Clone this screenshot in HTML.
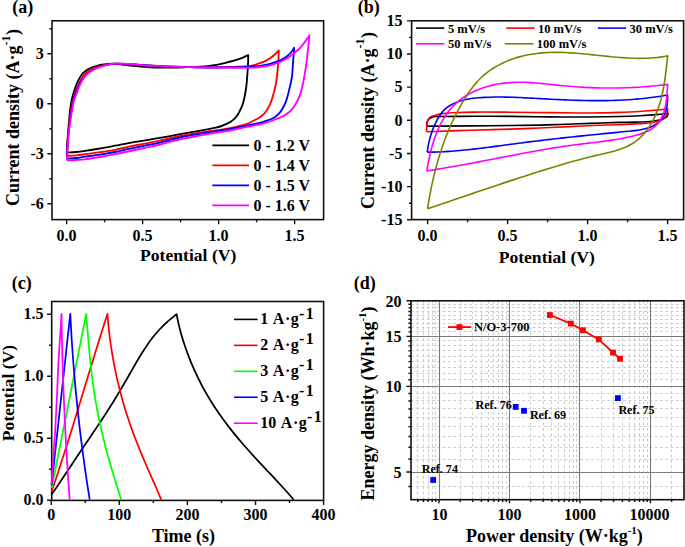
<!DOCTYPE html>
<html><head><meta charset="utf-8"><style>
html,body{margin:0;padding:0;background:#fff;}
svg{display:block;}
text{font-family:'Liberation Serif',serif;font-weight:bold;fill:#000;}
</style></head><body>
<svg width="685" height="547" viewBox="0 0 685 547">
<rect width="685" height="547" fill="#fff"/>
<text x="12.30" y="12.80" font-size="18" text-anchor="start" >(a)</text>
<rect x="52" y="20.8" width="271.6" height="198.79999999999998" fill="none" stroke="#111" stroke-width="1.6"/>
<path d="M66.60,219.60v4.6M142.60,219.60v4.6M218.60,219.60v4.6M294.60,219.60v4.6M104.60,219.60v2.6M180.60,219.60v2.6M256.60,219.60v2.6M52.00,203.80h-4.6M52.00,153.80h-4.6M52.00,103.80h-4.6M52.00,53.80h-4.6M52.00,178.80h-2.6M52.00,128.80h-2.6M52.00,78.80h-2.6M52.00,28.80h-2.6" stroke="#111" stroke-width="1.4" fill="none"/>
<text x="66.60" y="241.20" font-size="16" text-anchor="middle" >0.0</text>
<text x="142.60" y="241.20" font-size="16" text-anchor="middle" >0.5</text>
<text x="218.60" y="241.20" font-size="16" text-anchor="middle" >1.0</text>
<text x="294.60" y="241.20" font-size="16" text-anchor="middle" >1.5</text>
<text x="43.80" y="209.40" font-size="16" text-anchor="end" >-6</text>
<text x="43.80" y="159.40" font-size="16" text-anchor="end" >-3</text>
<text x="43.80" y="109.40" font-size="16" text-anchor="end" >0</text>
<text x="43.80" y="59.40" font-size="16" text-anchor="end" >3</text>
<text x="188.20" y="261.20" font-size="17.6" text-anchor="middle" >Potential (V)</text>
<text transform="translate(19.1,117.5) rotate(-90)" font-size="18" text-anchor="middle">Current density (A·g<tspan font-size="12" dy="-9.5">-1</tspan><tspan dy="9.5" dx="0.5">)</tspan></text>
<path d="M66.80,152.60 C67.03,148.40 67.18,144.60 67.50,140.00 C67.82,135.40 68.32,129.50 68.70,125.00 C69.08,120.50 69.33,117.07 69.80,113.00 C70.27,108.93 70.82,104.15 71.50,100.60 C72.18,97.05 73.12,94.30 73.90,91.70 C74.68,89.10 75.40,87.02 76.20,85.00 C77.00,82.98 77.70,81.43 78.70,79.60 C79.70,77.77 81.12,75.37 82.20,74.00 C83.28,72.63 84.15,72.23 85.20,71.40 C86.25,70.57 87.22,69.73 88.50,69.00 C89.78,68.27 91.32,67.57 92.90,67.00 C94.48,66.43 96.17,66.05 98.00,65.60 C99.83,65.15 101.38,64.63 103.90,64.30 C106.42,63.97 110.08,63.57 113.10,63.60 C116.12,63.63 118.72,64.13 122.00,64.50 C125.28,64.87 129.30,65.42 132.80,65.80 C136.30,66.18 139.35,66.52 143.00,66.80 C146.65,67.08 149.82,67.37 154.70,67.50 C159.58,67.63 166.82,67.67 172.30,67.60 C177.78,67.53 182.98,67.27 187.60,67.10 C192.22,66.93 196.35,66.82 200.00,66.60 C203.65,66.38 206.50,66.13 209.50,65.80 C212.50,65.47 215.20,65.12 218.00,64.60 C220.80,64.08 223.88,63.30 226.30,62.70 C228.72,62.10 230.47,61.58 232.50,61.00 C234.53,60.42 236.67,59.82 238.50,59.20 C240.33,58.58 241.88,57.98 243.50,57.30 C245.12,56.62 246.63,55.83 248.20,55.10 C248.17,57.40 248.20,59.35 248.10,62.00 C248.00,64.65 247.82,67.67 247.60,71.00 C247.38,74.33 247.10,78.83 246.80,82.00 C246.50,85.17 246.17,87.57 245.80,90.00 C245.43,92.43 245.10,94.27 244.60,96.60 C244.10,98.93 243.50,101.82 242.80,104.00 C242.10,106.18 241.12,108.12 240.40,109.70 C239.68,111.28 239.18,112.33 238.50,113.50 C237.82,114.67 237.13,115.68 236.30,116.70 C235.47,117.72 234.48,118.73 233.50,119.60 C232.52,120.47 231.65,121.13 230.40,121.90 C229.15,122.67 227.45,123.52 226.00,124.20 C224.55,124.88 223.37,125.43 221.70,126.00 C220.03,126.57 217.95,127.12 216.00,127.60 C214.05,128.08 213.50,128.23 210.00,128.90 C206.50,129.57 200.00,130.72 195.00,131.60 C190.00,132.48 185.83,133.15 180.00,134.20 C174.17,135.25 165.83,136.87 160.00,137.90 C154.17,138.93 150.00,139.58 145.00,140.40 C140.00,141.22 135.00,141.92 130.00,142.80 C125.00,143.68 120.00,144.75 115.00,145.70 C110.00,146.65 105.00,147.63 100.00,148.50 C95.00,149.37 89.00,150.32 85.00,150.90 C81.00,151.48 79.03,151.72 76.00,152.00 C72.97,152.28 69.87,152.40 66.80,152.60" stroke="#000" stroke-width="1.85" fill="none" stroke-linejoin="round"/>
<path d="M66.80,156.00 C67.10,150.67 67.32,145.17 67.70,140.00 C68.08,134.83 68.63,129.33 69.10,125.00 C69.57,120.67 69.98,117.67 70.50,114.00 C71.02,110.33 71.52,106.33 72.20,103.00 C72.88,99.67 73.77,96.67 74.60,94.00 C75.43,91.33 76.30,89.13 77.20,87.00 C78.10,84.87 78.93,83.10 80.00,81.20 C81.07,79.30 82.48,77.03 83.60,75.60 C84.72,74.17 85.63,73.50 86.70,72.60 C87.77,71.70 88.72,70.97 90.00,70.20 C91.28,69.43 92.78,68.67 94.40,68.00 C96.02,67.33 97.85,66.73 99.70,66.20 C101.55,65.67 103.27,65.20 105.50,64.80 C107.73,64.40 109.85,63.95 113.10,63.80 C116.35,63.65 119.88,63.67 125.00,63.90 C130.12,64.13 137.02,64.80 143.80,65.20 C150.58,65.60 158.40,66.00 165.70,66.30 C173.00,66.60 180.30,66.82 187.60,67.00 C194.90,67.18 202.20,67.42 209.50,67.40 C216.80,67.38 225.10,67.10 231.40,66.90 C237.70,66.70 243.37,66.55 247.30,66.20 C251.23,65.85 252.67,65.38 255.00,64.80 C257.33,64.22 259.47,63.40 261.30,62.70 C263.13,62.00 264.53,61.33 266.00,60.60 C267.47,59.87 268.68,59.27 270.10,58.30 C271.52,57.33 273.05,56.12 274.50,54.80 C275.95,53.48 277.37,51.87 278.80,50.40 C278.73,52.27 278.68,53.92 278.60,56.00 C278.52,58.08 278.60,59.30 278.30,62.90 C278.00,66.50 277.25,73.83 276.80,77.60 C276.35,81.37 276.08,83.07 275.60,85.50 C275.12,87.93 274.50,89.95 273.90,92.20 C273.30,94.45 272.73,96.80 272.00,99.00 C271.27,101.20 270.37,103.52 269.50,105.40 C268.63,107.28 267.77,108.85 266.80,110.30 C265.83,111.75 264.92,112.92 263.70,114.10 C262.48,115.28 260.97,116.42 259.50,117.40 C258.03,118.38 256.48,119.15 254.90,120.00 C253.32,120.85 251.72,121.73 250.00,122.50 C248.28,123.27 246.77,123.92 244.60,124.60 C242.43,125.28 239.43,126.00 237.00,126.60 C234.57,127.20 232.83,127.67 230.00,128.20 C227.17,128.73 223.33,129.32 220.00,129.80 C216.67,130.28 214.17,130.50 210.00,131.10 C205.83,131.70 200.00,132.62 195.00,133.40 C190.00,134.18 185.83,134.60 180.00,135.80 C174.17,137.00 165.83,139.30 160.00,140.60 C154.17,141.90 150.00,142.63 145.00,143.60 C140.00,144.57 135.00,145.37 130.00,146.40 C125.00,147.43 120.00,148.83 115.00,149.80 C110.00,150.77 105.00,151.47 100.00,152.20 C95.00,152.93 89.00,153.68 85.00,154.20 C81.00,154.72 79.03,155.00 76.00,155.30 C72.97,155.60 69.87,155.77 66.80,156.00" stroke="#f00" stroke-width="1.85" fill="none" stroke-linejoin="round"/>
<path d="M66.90,158.60 C67.23,152.40 67.48,145.60 67.90,140.00 C68.32,134.40 68.90,129.33 69.40,125.00 C69.90,120.67 70.42,117.17 70.90,114.00 C71.38,110.83 71.80,108.67 72.30,106.00 C72.80,103.33 73.20,100.42 73.90,98.00 C74.60,95.58 75.68,93.58 76.50,91.50 C77.32,89.42 77.92,87.38 78.80,85.50 C79.68,83.62 80.77,81.78 81.80,80.20 C82.83,78.62 83.88,77.23 85.00,76.00 C86.12,74.77 87.17,73.83 88.50,72.80 C89.83,71.77 91.42,70.68 93.00,69.80 C94.58,68.92 96.25,68.18 98.00,67.50 C99.75,66.82 101.67,66.22 103.50,65.70 C105.33,65.18 107.08,64.73 109.00,64.40 C110.92,64.07 112.17,63.78 115.00,63.70 C117.83,63.62 121.20,63.65 126.00,63.90 C130.80,64.15 137.18,64.78 143.80,65.20 C150.42,65.62 158.40,66.08 165.70,66.40 C173.00,66.72 180.30,66.92 187.60,67.10 C194.90,67.28 202.20,67.47 209.50,67.50 C216.80,67.53 224.65,67.45 231.40,67.30 C238.15,67.15 245.02,66.88 250.00,66.60 C254.98,66.32 257.97,66.07 261.30,65.60 C264.63,65.13 267.08,64.58 270.00,63.80 C272.92,63.02 276.55,61.78 278.80,60.90 C281.05,60.02 282.03,59.37 283.50,58.50 C284.97,57.63 286.35,56.70 287.60,55.70 C288.85,54.70 289.92,53.82 291.00,52.50 C292.08,51.18 293.07,49.37 294.10,47.80 C294.00,49.87 293.95,51.97 293.80,54.00 C293.65,56.03 293.47,56.57 293.20,60.00 C292.93,63.43 292.57,70.93 292.20,74.60 C291.83,78.27 291.48,79.55 291.00,82.00 C290.52,84.45 289.87,86.97 289.30,89.30 C288.73,91.63 288.22,93.82 287.60,96.00 C286.98,98.18 286.37,100.43 285.60,102.40 C284.83,104.37 283.97,106.08 283.00,107.80 C282.03,109.52 280.92,111.33 279.80,112.70 C278.68,114.07 277.53,115.03 276.30,116.00 C275.07,116.97 274.12,117.68 272.40,118.50 C270.68,119.32 268.18,120.17 266.00,120.90 C263.82,121.63 261.97,122.23 259.30,122.90 C256.63,123.57 252.45,124.38 250.00,124.90 C247.55,125.42 246.77,125.55 244.60,126.00 C242.43,126.45 239.43,127.10 237.00,127.60 C234.57,128.10 232.83,128.50 230.00,129.00 C227.17,129.50 223.33,130.08 220.00,130.60 C216.67,131.12 214.17,131.42 210.00,132.10 C205.83,132.78 200.00,133.80 195.00,134.70 C190.00,135.60 185.83,136.18 180.00,137.50 C174.17,138.82 165.83,141.25 160.00,142.60 C154.17,143.95 150.00,144.60 145.00,145.60 C140.00,146.60 135.00,147.53 130.00,148.60 C125.00,149.67 120.00,151.00 115.00,152.00 C110.00,153.00 105.00,153.82 100.00,154.60 C95.00,155.38 89.00,156.13 85.00,156.70 C81.00,157.27 79.02,157.68 76.00,158.00 C72.98,158.32 69.93,158.40 66.90,158.60" stroke="#00f" stroke-width="1.85" fill="none" stroke-linejoin="round"/>
<path d="M67.00,160.40 C67.40,153.60 67.75,145.90 68.20,140.00 C68.65,134.10 69.18,129.17 69.70,125.00 C70.22,120.83 70.83,117.83 71.30,115.00 C71.77,112.17 72.07,110.42 72.50,108.00 C72.93,105.58 73.23,102.85 73.90,100.50 C74.57,98.15 75.68,96.07 76.50,93.90 C77.32,91.73 77.88,89.70 78.80,87.50 C79.72,85.30 80.97,82.57 82.00,80.70 C83.03,78.83 83.92,77.58 85.00,76.30 C86.08,75.02 87.17,74.05 88.50,73.00 C89.83,71.95 91.35,70.90 93.00,70.00 C94.65,69.10 96.65,68.30 98.40,67.60 C100.15,66.90 101.67,66.35 103.50,65.80 C105.33,65.25 107.32,64.67 109.40,64.30 C111.48,63.93 112.90,63.67 116.00,63.60 C119.10,63.53 123.37,63.62 128.00,63.90 C132.63,64.18 137.52,64.88 143.80,65.30 C150.08,65.72 158.40,66.10 165.70,66.40 C173.00,66.70 180.30,66.92 187.60,67.10 C194.90,67.28 202.20,67.40 209.50,67.50 C216.80,67.60 224.22,67.68 231.40,67.70 C238.58,67.72 247.50,67.77 252.60,67.60 C257.70,67.43 259.08,67.08 262.00,66.70 C264.92,66.32 267.52,65.93 270.10,65.30 C272.68,64.67 275.17,63.78 277.50,62.90 C279.83,62.02 281.93,61.15 284.10,60.00 C286.27,58.85 288.45,57.45 290.50,56.00 C292.55,54.55 294.65,52.83 296.40,51.30 C298.15,49.77 299.55,48.42 301.00,46.80 C302.45,45.18 303.68,43.53 305.10,41.60 C306.52,39.67 308.03,37.33 309.50,35.20 C309.20,38.13 308.90,41.20 308.60,44.00 C308.30,46.80 308.00,49.33 307.70,52.00 C307.40,54.67 307.12,57.42 306.80,60.00 C306.48,62.58 306.17,65.07 305.80,67.50 C305.43,69.93 305.02,72.18 304.60,74.60 C304.18,77.02 303.78,79.55 303.30,82.00 C302.82,84.45 302.30,87.05 301.70,89.30 C301.10,91.55 300.43,93.55 299.70,95.50 C298.97,97.45 298.15,99.28 297.30,101.00 C296.45,102.72 295.57,104.33 294.60,105.80 C293.63,107.27 292.60,108.60 291.50,109.80 C290.40,111.00 289.23,112.03 288.00,113.00 C286.77,113.97 285.60,114.77 284.10,115.60 C282.60,116.43 280.70,117.27 279.00,118.00 C277.30,118.73 275.97,119.28 273.90,120.00 C271.83,120.72 269.03,121.57 266.60,122.30 C264.17,123.03 262.07,123.72 259.30,124.40 C256.53,125.08 252.45,125.90 250.00,126.40 C247.55,126.90 246.77,126.97 244.60,127.40 C242.43,127.83 239.43,128.48 237.00,129.00 C234.57,129.52 232.83,129.98 230.00,130.50 C227.17,131.02 223.33,131.57 220.00,132.10 C216.67,132.63 214.17,132.97 210.00,133.70 C205.83,134.43 200.00,135.55 195.00,136.50 C190.00,137.45 185.83,138.07 180.00,139.40 C174.17,140.73 165.83,143.10 160.00,144.50 C154.17,145.90 150.00,146.72 145.00,147.80 C140.00,148.88 135.00,149.93 130.00,151.00 C125.00,152.07 120.00,153.20 115.00,154.20 C110.00,155.20 105.00,156.13 100.00,157.00 C95.00,157.87 89.00,158.90 85.00,159.40 C81.00,159.90 79.00,159.83 76.00,160.00 C73.00,160.17 70.00,160.27 67.00,160.40" stroke="#f0f" stroke-width="1.85" fill="none" stroke-linejoin="round"/>
<path d="M212.3,145.40H249" stroke="#000" stroke-width="1.7"/>
<text x="253.50" y="150.70" font-size="16" text-anchor="start" >0 - 1.2 V</text>
<path d="M212.3,165.40H249" stroke="#f00" stroke-width="1.7"/>
<text x="253.50" y="170.70" font-size="16" text-anchor="start" >0 - 1.4 V</text>
<path d="M212.3,185.40H249" stroke="#00f" stroke-width="1.7"/>
<text x="253.50" y="190.70" font-size="16" text-anchor="start" >0 - 1.5 V</text>
<path d="M212.3,205.40H249" stroke="#f0f" stroke-width="1.7"/>
<text x="253.50" y="210.70" font-size="16" text-anchor="start" >0 - 1.6 V</text>
<text x="357.70" y="13.10" font-size="18" text-anchor="start" >(b)</text>
<rect x="411.6" y="20.8" width="272.0" height="198.79999999999998" fill="none" stroke="#111" stroke-width="1.6"/>
<path d="M427.60,219.60v4.6M507.60,219.60v4.6M587.60,219.60v4.6M667.60,219.60v4.6M467.60,219.60v2.6M547.60,219.60v2.6M627.60,219.60v2.6M411.60,219.75h-4.6M411.60,186.60h-4.6M411.60,153.45h-4.6M411.60,120.30h-4.6M411.60,87.15h-4.6M411.60,54.00h-4.6M411.60,20.85h-4.6M411.60,203.18h-2.6M411.60,170.03h-2.6M411.60,136.88h-2.6M411.60,103.72h-2.6M411.60,70.57h-2.6M411.60,37.42h-2.6" stroke="#111" stroke-width="1.4" fill="none"/>
<text x="427.60" y="241.20" font-size="16" text-anchor="middle" >0.0</text>
<text x="507.60" y="241.20" font-size="16" text-anchor="middle" >0.5</text>
<text x="587.60" y="241.20" font-size="16" text-anchor="middle" >1.0</text>
<text x="667.60" y="241.20" font-size="16" text-anchor="middle" >1.5</text>
<text x="402.40" y="225.05" font-size="16" text-anchor="end" >-15</text>
<text x="402.40" y="191.90" font-size="16" text-anchor="end" >-10</text>
<text x="402.40" y="158.75" font-size="16" text-anchor="end" >-5</text>
<text x="402.40" y="125.60" font-size="16" text-anchor="end" >0</text>
<text x="402.40" y="92.45" font-size="16" text-anchor="end" >5</text>
<text x="402.40" y="59.30" font-size="16" text-anchor="end" >10</text>
<text x="402.40" y="26.15" font-size="16" text-anchor="end" >15</text>
<text x="546.80" y="263.00" font-size="17.6" text-anchor="middle" >Potential (V)</text>
<text transform="translate(373.6,120.5) rotate(-90)" font-size="18" text-anchor="middle">Current density (A·g<tspan font-size="12" dy="-9.5">-1</tspan><tspan dy="9.5" dx="0.5">)</tspan></text>
<path d="M426.60,126.20 C426.70,125.20 426.72,124.12 426.90,123.20 C427.08,122.28 427.38,121.38 427.70,120.70 C428.02,120.02 428.33,119.55 428.80,119.10 C429.27,118.65 429.80,118.33 430.50,118.00 C431.20,117.67 432.08,117.35 433.00,117.10 C433.92,116.85 429.00,116.63 436.00,116.50 C443.00,116.37 462.67,116.32 475.00,116.30 C487.33,116.28 497.50,116.30 510.00,116.40 C522.50,116.50 536.67,116.80 550.00,116.90 C563.33,117.00 578.33,117.07 590.00,117.00 C601.67,116.93 611.67,116.72 620.00,116.50 C628.33,116.28 633.90,116.02 640.00,115.70 C646.10,115.38 651.93,115.02 656.60,114.60 C661.27,114.18 664.20,113.67 668.00,113.20 C667.93,113.80 668.02,114.38 667.80,115.00 C667.58,115.62 667.33,116.30 666.70,116.90 C666.07,117.50 664.92,118.13 664.00,118.60 C663.08,119.07 662.87,119.30 661.20,119.70 C659.53,120.10 656.30,120.65 654.00,121.00 C651.70,121.35 649.73,121.63 647.40,121.80 C645.07,121.97 644.57,121.90 640.00,122.00 C635.43,122.10 628.33,122.17 620.00,122.40 C611.67,122.63 600.00,123.05 590.00,123.40 C580.00,123.75 568.33,124.22 560.00,124.50 C551.67,124.78 548.33,124.93 540.00,125.10 C531.67,125.27 521.67,125.37 510.00,125.50 C498.33,125.63 481.67,125.80 470.00,125.90 C458.33,126.00 447.23,126.05 440.00,126.10 C432.77,126.15 431.07,126.17 426.60,126.20" stroke="#000" stroke-width="1.6" fill="none" stroke-linejoin="round"/>
<path d="M426.60,131.70 C426.67,129.80 426.68,127.62 426.80,126.00 C426.92,124.38 427.07,123.10 427.30,122.00 C427.53,120.90 427.82,120.13 428.20,119.40 C428.58,118.67 429.00,118.12 429.60,117.60 C430.20,117.08 430.90,116.67 431.80,116.30 C432.70,115.93 433.50,115.80 435.00,115.40 C436.50,115.00 437.88,114.33 440.80,113.90 C443.72,113.47 446.80,113.10 452.50,112.80 C458.20,112.50 465.42,112.20 475.00,112.10 C484.58,112.00 497.50,112.12 510.00,112.20 C522.50,112.28 536.67,112.47 550.00,112.60 C563.33,112.73 578.33,113.03 590.00,113.00 C601.67,112.97 610.83,112.73 620.00,112.40 C629.17,112.07 638.33,111.43 645.00,111.00 C651.67,110.57 656.23,110.18 660.00,109.80 C663.77,109.42 665.07,109.07 667.60,108.70 C667.63,109.47 667.70,110.32 667.70,111.00 C667.70,111.68 667.80,112.07 667.60,112.80 C667.40,113.53 666.97,114.63 666.50,115.40 C666.03,116.17 665.55,116.72 664.80,117.40 C664.05,118.08 662.92,118.90 662.00,119.50 C661.08,120.10 660.80,120.52 659.30,121.00 C657.80,121.48 654.98,122.02 653.00,122.40 C651.02,122.78 649.57,123.10 647.40,123.30 C645.23,123.50 644.57,123.38 640.00,123.60 C635.43,123.82 626.93,124.32 620.00,124.60 C613.07,124.88 606.73,124.97 598.40,125.30 C590.07,125.63 579.73,126.15 570.00,126.60 C560.27,127.05 550.00,127.58 540.00,128.00 C530.00,128.42 521.45,128.73 510.00,129.10 C498.55,129.47 481.30,129.90 471.30,130.20 C461.30,130.50 457.45,130.65 450.00,130.90 C442.55,131.15 434.40,131.43 426.60,131.70" stroke="#f00" stroke-width="1.6" fill="none" stroke-linejoin="round"/>
<path d="M427.20,152.20 C427.47,150.38 427.68,148.56 428.00,146.75 C428.32,144.94 428.71,143.13 429.14,141.33 C429.57,139.53 430.06,137.74 430.60,135.96 C431.14,134.18 431.74,132.40 432.38,130.64 C433.02,128.88 433.72,127.12 434.47,125.39 C435.22,123.66 436.01,121.93 436.89,120.27 C437.76,118.61 438.69,116.96 439.72,115.43 C440.76,113.90 441.87,112.43 443.10,111.10 C444.33,109.77 445.68,108.55 447.12,107.45 C448.56,106.35 450.12,105.38 451.72,104.50 C453.32,103.62 455.02,102.86 456.74,102.18 C458.46,101.50 460.25,100.94 462.04,100.44 C463.83,99.94 465.66,99.54 467.49,99.19 C469.32,98.84 471.17,98.57 473.03,98.33 C474.88,98.09 476.75,97.92 478.62,97.77 C480.49,97.62 482.36,97.51 484.23,97.41 C486.10,97.31 487.96,97.24 489.82,97.18 C491.68,97.12 493.54,97.09 495.40,97.07 C497.26,97.05 499.12,97.04 500.97,97.05 C502.82,97.06 504.67,97.08 506.52,97.11 C508.37,97.14 510.22,97.19 512.07,97.25 C513.92,97.31 515.77,97.38 517.62,97.45 C519.47,97.53 521.31,97.61 523.16,97.70 C525.01,97.79 526.85,97.88 528.70,97.98 C530.55,98.08 532.40,98.18 534.25,98.28 C536.10,98.38 537.94,98.50 539.79,98.60 C541.64,98.70 543.50,98.80 545.35,98.90 C547.20,99.00 549.05,99.10 550.91,99.20 C552.76,99.30 554.62,99.39 556.48,99.48 C558.34,99.57 560.19,99.66 562.05,99.74 C563.91,99.82 565.76,99.91 567.62,99.98 C569.48,100.06 571.34,100.13 573.20,100.19 C575.06,100.25 576.92,100.31 578.78,100.36 C580.64,100.41 582.50,100.46 584.36,100.50 C586.22,100.54 588.08,100.57 589.94,100.59 C591.80,100.61 593.67,100.63 595.53,100.64 C597.39,100.65 599.24,100.65 601.10,100.64 C602.96,100.63 604.82,100.61 606.68,100.58 C608.54,100.55 610.39,100.51 612.25,100.46 C614.11,100.41 615.96,100.35 617.82,100.28 C619.68,100.21 621.54,100.13 623.39,100.03 C625.24,99.93 627.09,99.82 628.94,99.70 C630.79,99.58 632.65,99.45 634.50,99.30 C636.35,99.15 638.19,98.99 640.04,98.81 C641.88,98.63 643.73,98.44 645.57,98.24 C647.41,98.03 649.26,97.82 651.10,97.58 C652.94,97.34 654.77,97.09 656.61,96.82 C658.45,96.55 660.28,96.26 662.11,95.96 C663.94,95.66 665.77,95.32 667.60,95.00 C667.58,96.76 667.62,98.49 667.54,100.28 C667.46,102.07 667.39,103.95 667.14,105.76 C666.88,107.57 666.57,109.42 666.01,111.14 C665.45,112.86 664.73,114.56 663.81,116.11 C662.89,117.66 661.73,119.14 660.50,120.44 C659.27,121.74 657.88,122.90 656.45,123.91 C655.02,124.92 653.51,125.75 651.94,126.48 C650.38,127.21 648.73,127.79 647.06,128.30 C645.39,128.81 643.65,129.19 641.90,129.54 C640.15,129.89 638.34,130.14 636.54,130.38 C634.74,130.62 632.91,130.80 631.09,130.99 C629.27,131.18 627.44,131.35 625.62,131.53 C623.80,131.71 621.99,131.88 620.18,132.06 C618.37,132.24 616.55,132.42 614.74,132.60 C612.93,132.78 611.13,132.95 609.33,133.13 C607.53,133.31 605.73,133.49 603.93,133.67 C602.13,133.85 600.33,134.03 598.54,134.21 C596.75,134.39 594.96,134.58 593.17,134.76 C591.38,134.94 589.59,135.12 587.81,135.30 C586.02,135.48 584.24,135.67 582.46,135.86 C580.68,136.05 578.89,136.23 577.11,136.42 C575.33,136.61 573.55,136.80 571.77,136.99 C569.99,137.18 568.22,137.37 566.44,137.56 C564.66,137.75 562.88,137.95 561.11,138.15 C559.34,138.35 557.56,138.54 555.79,138.74 C554.02,138.94 552.24,139.14 550.47,139.35 C548.70,139.56 546.92,139.76 545.15,139.97 C543.38,140.18 541.60,140.39 539.82,140.60 C538.05,140.81 536.27,141.03 534.50,141.25 C532.73,141.47 530.95,141.69 529.17,141.91 C527.39,142.13 525.61,142.36 523.83,142.59 C522.05,142.82 520.27,143.05 518.49,143.28 C516.71,143.51 514.93,143.75 513.15,143.99 C511.37,144.23 509.58,144.47 507.79,144.71 C506.00,144.95 504.22,145.19 502.43,145.43 C500.64,145.67 498.86,145.91 497.07,146.15 C495.28,146.39 493.49,146.63 491.70,146.86 C489.91,147.09 488.12,147.32 486.33,147.55 C484.54,147.78 482.74,148.00 480.95,148.22 C479.16,148.44 477.37,148.65 475.58,148.86 C473.79,149.07 471.99,149.27 470.20,149.46 C468.41,149.65 466.61,149.84 464.82,150.02 C463.03,150.20 461.23,150.37 459.44,150.53 C457.65,150.69 455.85,150.85 454.06,150.99 C452.27,151.13 450.47,151.26 448.68,151.38 C446.89,151.50 445.10,151.62 443.31,151.71 C441.52,151.81 439.73,151.88 437.94,151.95 C436.15,152.02 434.36,152.08 432.57,152.12 C430.78,152.16 428.99,152.17 427.20,152.20" stroke="#00f" stroke-width="1.6" fill="none" stroke-linejoin="round"/>
<path d="M426.80,171.00 C427.13,169.08 427.44,167.17 427.79,165.25 C428.14,163.33 428.52,161.40 428.92,159.46 C429.32,157.53 429.74,155.58 430.20,153.64 C430.66,151.70 431.15,149.75 431.68,147.82 C432.21,145.88 432.77,143.95 433.38,142.03 C433.99,140.11 434.63,138.19 435.33,136.29 C436.02,134.39 436.76,132.51 437.55,130.65 C438.34,128.79 439.18,126.94 440.07,125.14 C440.96,123.34 441.90,121.56 442.90,119.84 C443.90,118.12 444.95,116.43 446.06,114.80 C447.17,113.17 448.34,111.58 449.58,110.06 C450.82,108.54 452.12,107.09 453.48,105.70 C454.84,104.31 456.27,102.99 457.75,101.74 C459.23,100.49 460.77,99.30 462.36,98.18 C463.95,97.06 465.59,96.00 467.28,95.01 C468.96,94.02 470.70,93.09 472.47,92.22 C474.24,91.35 476.05,90.55 477.89,89.80 C479.73,89.05 481.61,88.36 483.51,87.73 C485.41,87.10 487.34,86.53 489.28,86.01 C491.22,85.49 493.19,85.04 495.16,84.63 C497.13,84.22 499.13,83.87 501.12,83.57 C503.11,83.27 505.12,83.02 507.12,82.83 C509.12,82.64 511.13,82.50 513.13,82.40 C515.13,82.30 517.12,82.25 519.11,82.24 C521.10,82.23 523.09,82.26 525.08,82.32 C527.07,82.38 529.05,82.48 531.03,82.60 C533.01,82.72 534.98,82.88 536.96,83.04 C538.94,83.21 540.91,83.40 542.89,83.59 C544.87,83.78 546.85,83.99 548.82,84.20 C550.80,84.41 552.77,84.64 554.74,84.85 C556.71,85.06 558.68,85.28 560.66,85.48 C562.63,85.68 564.61,85.87 566.59,86.05 C568.57,86.23 570.54,86.39 572.52,86.55 C574.50,86.71 576.48,86.86 578.46,86.99 C580.44,87.12 582.42,87.24 584.40,87.35 C586.38,87.46 588.37,87.56 590.35,87.64 C592.33,87.72 594.31,87.80 596.30,87.86 C598.28,87.92 600.27,87.97 602.26,88.00 C604.25,88.03 606.22,88.05 608.21,88.06 C610.20,88.07 612.19,88.07 614.18,88.05 C616.17,88.03 618.15,88.00 620.14,87.96 C622.13,87.92 624.12,87.87 626.11,87.80 C628.10,87.73 630.08,87.64 632.07,87.55 C634.06,87.45 636.04,87.35 638.03,87.23 C640.02,87.11 642.01,86.97 643.99,86.82 C645.97,86.67 647.95,86.52 649.93,86.34 C651.91,86.17 653.89,85.97 655.87,85.77 C657.85,85.57 659.82,85.36 661.79,85.13 C663.76,84.90 665.73,84.64 667.70,84.40 C667.55,86.19 667.39,87.92 667.24,89.77 C667.09,91.62 666.98,93.55 666.81,95.48 C666.64,97.41 666.48,99.39 666.22,101.34 C665.96,103.29 665.67,105.26 665.25,107.17 C664.83,109.08 664.35,110.99 663.72,112.79 C663.09,114.59 662.36,116.36 661.48,118.00 C660.60,119.64 659.59,121.21 658.45,122.64 C657.31,124.07 656.03,125.40 654.66,126.59 C653.29,127.78 651.79,128.86 650.21,129.81 C648.63,130.76 646.93,131.55 645.19,132.27 C643.46,132.99 641.63,133.58 639.80,134.15 C637.97,134.72 636.09,135.19 634.23,135.67 C632.37,136.14 630.50,136.58 628.63,137.00 C626.76,137.42 624.88,137.80 623.01,138.17 C621.14,138.54 619.26,138.88 617.39,139.21 C615.51,139.54 613.64,139.84 611.76,140.13 C609.88,140.42 608.01,140.70 606.13,140.97 C604.25,141.24 602.38,141.48 600.50,141.73 C598.62,141.97 596.74,142.21 594.86,142.44 C592.98,142.67 591.11,142.90 589.23,143.12 C587.35,143.34 585.47,143.56 583.59,143.79 C581.71,144.01 579.84,144.24 577.96,144.47 C576.08,144.70 574.21,144.94 572.33,145.18 C570.45,145.42 568.58,145.67 566.70,145.93 C564.83,146.19 562.95,146.47 561.08,146.75 C559.21,147.03 557.33,147.31 555.46,147.61 C553.59,147.91 551.72,148.21 549.85,148.52 C547.98,148.83 546.12,149.16 544.25,149.48 C542.38,149.80 540.51,150.13 538.64,150.46 C536.77,150.79 534.90,151.14 533.04,151.48 C531.17,151.82 529.31,152.17 527.45,152.52 C525.59,152.87 523.72,153.23 521.86,153.58 C520.00,153.93 518.13,154.28 516.27,154.64 C514.41,155.00 512.54,155.36 510.68,155.72 C508.82,156.08 506.95,156.43 505.09,156.79 C503.23,157.15 501.37,157.51 499.51,157.87 C497.65,158.23 495.79,158.59 493.93,158.94 C492.07,159.29 490.20,159.65 488.34,160.00 C486.48,160.35 484.62,160.72 482.76,161.07 C480.90,161.42 479.03,161.77 477.17,162.12 C475.31,162.47 473.45,162.82 471.59,163.17 C469.73,163.52 467.86,163.86 466.00,164.20 C464.14,164.54 462.27,164.88 460.41,165.22 C458.55,165.56 456.68,165.90 454.82,166.23 C452.96,166.56 451.10,166.89 449.23,167.22 C447.37,167.55 445.50,167.88 443.63,168.20 C441.76,168.52 439.89,168.84 438.02,169.15 C436.15,169.47 434.28,169.78 432.41,170.09 C430.54,170.40 428.67,170.70 426.80,171.00" stroke="#f0f" stroke-width="1.6" fill="none" stroke-linejoin="round"/>
<path d="M427.50,208.80 C427.80,206.93 428.09,205.07 428.40,203.20 C428.71,201.33 429.03,199.46 429.37,197.59 C429.71,195.72 430.06,193.86 430.42,191.99 C430.78,190.12 431.16,188.26 431.55,186.40 C431.94,184.54 432.34,182.67 432.76,180.81 C433.18,178.95 433.61,177.09 434.06,175.24 C434.51,173.39 434.97,171.54 435.45,169.69 C435.93,167.84 436.42,166.00 436.93,164.16 C437.44,162.32 437.97,160.48 438.52,158.65 C439.06,156.82 439.62,155.00 440.20,153.18 C440.78,151.36 441.37,149.55 441.98,147.74 C442.59,145.94 443.22,144.14 443.87,142.35 C444.52,140.56 445.18,138.77 445.87,136.99 C446.56,135.21 447.26,133.45 447.99,131.69 C448.72,129.93 449.46,128.17 450.22,126.43 C450.98,124.69 451.76,122.96 452.57,121.24 C453.38,119.52 454.20,117.80 455.05,116.10 C455.90,114.40 456.77,112.71 457.66,111.03 C458.55,109.35 459.46,107.68 460.39,106.02 C461.32,104.36 462.28,102.72 463.26,101.09 C464.24,99.46 465.24,97.84 466.27,96.25 C467.30,94.66 468.36,93.07 469.45,91.52 C470.54,89.97 471.66,88.45 472.82,86.96 C473.98,85.47 475.19,84.01 476.43,82.60 C477.68,81.19 478.95,79.81 480.29,78.48 C481.63,77.16 483.01,75.87 484.45,74.65 C485.89,73.43 487.38,72.26 488.92,71.15 C490.46,70.04 492.06,68.99 493.69,67.98 C495.32,66.97 497.01,66.02 498.71,65.11 C500.41,64.20 502.15,63.34 503.91,62.53 C505.67,61.72 507.46,60.96 509.25,60.25 C511.04,59.54 512.86,58.88 514.68,58.28 C516.50,57.68 518.33,57.13 520.16,56.63 C521.99,56.13 523.84,55.68 525.68,55.28 C527.52,54.88 529.37,54.53 531.22,54.22 C533.07,53.91 534.93,53.65 536.79,53.42 C538.65,53.19 540.52,53.01 542.39,52.86 C544.26,52.71 546.13,52.60 548.01,52.52 C549.89,52.44 551.76,52.39 553.65,52.37 C555.53,52.35 557.43,52.36 559.32,52.39 C561.21,52.42 563.10,52.49 564.99,52.57 C566.88,52.65 568.79,52.75 570.69,52.87 C572.59,52.99 574.49,53.13 576.39,53.28 C578.29,53.43 580.20,53.60 582.11,53.77 C584.02,53.94 585.92,54.13 587.83,54.32 C589.74,54.51 591.65,54.71 593.56,54.91 C595.47,55.11 597.39,55.31 599.30,55.51 C601.21,55.71 603.13,55.91 605.04,56.11 C606.95,56.30 608.87,56.50 610.78,56.68 C612.69,56.86 614.60,57.04 616.51,57.20 C618.42,57.36 620.33,57.52 622.24,57.65 C624.15,57.78 626.06,57.90 627.97,58.00 C629.88,58.10 631.79,58.17 633.69,58.23 C635.59,58.28 637.49,58.32 639.39,58.33 C641.29,58.34 643.19,58.31 645.09,58.26 C646.99,58.20 648.88,58.12 650.77,58.00 C652.66,57.88 654.54,57.73 656.43,57.54 C658.31,57.35 660.20,57.11 662.08,56.84 C663.96,56.57 665.83,56.21 667.70,55.90 C667.47,57.98 667.24,60.04 667.00,62.13 C666.76,64.22 666.54,66.32 666.29,68.43 C666.04,70.54 665.79,72.67 665.52,74.79 C665.25,76.91 664.96,79.04 664.64,81.16 C664.32,83.28 663.99,85.41 663.60,87.53 C663.22,89.65 662.80,91.76 662.33,93.86 C661.86,95.96 661.36,98.06 660.79,100.14 C660.22,102.22 659.61,104.28 658.93,106.33 C658.25,108.38 657.51,110.41 656.70,112.41 C655.89,114.41 655.01,116.38 654.06,118.31 C653.11,120.24 652.08,122.14 650.99,123.97 C649.90,125.80 648.74,127.58 647.50,129.28 C646.26,130.98 644.96,132.63 643.57,134.18 C642.18,135.73 640.71,137.21 639.17,138.58 C637.63,139.95 636.02,141.23 634.32,142.39 C632.62,143.55 630.84,144.59 628.99,145.54 C627.14,146.49 625.21,147.32 623.24,148.09 C621.27,148.86 619.23,149.53 617.18,150.16 C615.12,150.79 613.02,151.35 610.91,151.90 C608.80,152.45 606.66,152.94 604.53,153.44 C602.40,153.94 600.26,154.41 598.14,154.91 C596.02,155.41 593.92,155.91 591.82,156.43 C589.73,156.95 587.64,157.47 585.57,158.01 C583.50,158.55 581.44,159.09 579.39,159.65 C577.34,160.21 575.29,160.77 573.25,161.34 C571.21,161.91 569.18,162.49 567.15,163.07 C565.12,163.65 563.10,164.24 561.08,164.84 C559.06,165.44 557.03,166.04 555.01,166.65 C552.99,167.26 550.97,167.88 548.94,168.50 C546.92,169.12 544.89,169.74 542.86,170.37 C540.83,171.00 538.81,171.63 536.78,172.27 C534.75,172.91 532.73,173.55 530.70,174.20 C528.67,174.85 526.64,175.50 524.61,176.15 C522.58,176.80 520.55,177.46 518.52,178.12 C516.49,178.78 514.47,179.45 512.44,180.12 C510.41,180.79 508.38,181.45 506.35,182.12 C504.32,182.79 502.29,183.47 500.26,184.15 C498.23,184.83 496.20,185.50 494.17,186.18 C492.14,186.86 490.12,187.55 488.09,188.23 C486.06,188.91 484.03,189.59 482.00,190.28 C479.97,190.97 477.94,191.66 475.92,192.35 C473.90,193.04 471.87,193.72 469.85,194.41 C467.83,195.10 465.80,195.79 463.78,196.48 C461.76,197.17 459.73,197.85 457.71,198.54 C455.69,199.23 453.68,199.92 451.66,200.61 C449.64,201.30 447.63,201.98 445.61,202.67 C443.59,203.35 441.57,204.04 439.56,204.72 C437.55,205.40 435.54,206.09 433.53,206.77 C431.52,207.45 429.51,208.12 427.50,208.80" stroke="#808000" stroke-width="1.6" fill="none" stroke-linejoin="round"/>
<path d="M416,28.1H444.3" stroke="#000" stroke-width="1.6"/>
<text x="447.90" y="32.60" font-size="12.5" text-anchor="start" >5 mV/s</text>
<path d="M506.2,28.1H534.6" stroke="#f00" stroke-width="1.6"/>
<text x="537.90" y="32.60" font-size="12.5" text-anchor="start" >10 mV/s</text>
<path d="M597.9,28.1H626.2" stroke="#00f" stroke-width="1.6"/>
<text x="629.50" y="32.60" font-size="12.5" text-anchor="start" >30 mV/s</text>
<path d="M416,43.8H444.3" stroke="#f0f" stroke-width="1.6"/>
<text x="447.90" y="48.30" font-size="12.5" text-anchor="start" >50 mV/s</text>
<path d="M504.8,43.8H533.4" stroke="#808000" stroke-width="1.6"/>
<text x="536.80" y="48.30" font-size="12.5" text-anchor="start" >100 mV/s</text>
<text x="11.70" y="289.30" font-size="18" text-anchor="start" >(c)</text>
<rect x="51.7" y="301.5" width="271.90000000000003" height="198.89999999999998" fill="none" stroke="#111" stroke-width="1.6"/>
<path d="M51.20,500.40v4.6M119.30,500.40v4.6M187.40,500.40v4.6M255.50,500.40v4.6M323.60,500.40v4.6M85.25,500.40v2.6M153.35,500.40v2.6M221.45,500.40v2.6M289.55,500.40v2.6M51.70,500.30h-4.6M51.70,438.30h-4.6M51.70,376.30h-4.6M51.70,314.30h-4.6M51.70,469.30h-2.6M51.70,407.30h-2.6M51.70,345.30h-2.6" stroke="#111" stroke-width="1.4" fill="none"/>
<text x="51.20" y="520.20" font-size="16" text-anchor="middle" >0</text>
<text x="119.30" y="520.20" font-size="16" text-anchor="middle" >100</text>
<text x="187.40" y="520.20" font-size="16" text-anchor="middle" >200</text>
<text x="255.50" y="520.20" font-size="16" text-anchor="middle" >300</text>
<text x="323.60" y="520.20" font-size="16" text-anchor="middle" >400</text>
<text x="43.60" y="505.20" font-size="16" text-anchor="end" >0.0</text>
<text x="43.60" y="443.20" font-size="16" text-anchor="end" >0.5</text>
<text x="43.60" y="381.20" font-size="16" text-anchor="end" >1.0</text>
<text x="43.60" y="319.20" font-size="16" text-anchor="end" >1.5</text>
<text x="183.50" y="542.40" font-size="18" text-anchor="middle" >Time (s)</text>
<text transform="translate(13.7,393) rotate(-90)" font-size="17.6" text-anchor="middle">Potential (V)</text>
<path d="M51.60,494.50 C53.40,491.89 55.23,489.28 57.01,486.67 C58.79,484.06 60.53,481.44 62.27,478.83 C64.01,476.22 65.74,473.61 67.47,471.00 C69.20,468.39 70.93,465.77 72.67,463.16 C74.41,460.55 76.15,457.94 77.90,455.33 C79.65,452.72 81.40,450.10 83.16,447.49 C84.92,444.88 86.69,442.27 88.45,439.66 C90.21,437.05 91.98,434.43 93.74,431.82 C95.49,429.21 97.25,426.60 98.98,423.99 C100.71,421.38 102.44,418.76 104.14,416.15 C105.84,413.54 107.54,410.93 109.20,408.32 C110.86,405.71 112.50,403.09 114.11,400.48 C115.72,397.87 117.31,395.26 118.87,392.65 C120.43,390.04 121.97,387.42 123.49,384.81 C125.01,382.20 126.51,379.59 128.01,376.98 C129.51,374.37 130.97,371.75 132.47,369.14 C133.97,366.53 135.44,363.92 136.98,361.31 C138.52,358.70 140.06,356.08 141.69,353.47 C143.32,350.86 144.97,348.25 146.77,345.64 C148.57,343.03 150.42,340.41 152.48,337.80 C154.53,335.19 156.68,332.58 159.10,329.97 C161.52,327.36 164.08,324.74 167.00,322.13 C169.92,319.52 173.40,316.91 176.60,314.30 C177.15,316.99 177.64,319.68 178.24,322.36 C178.84,325.05 179.51,327.73 180.22,330.41 C180.93,333.10 181.70,335.78 182.51,338.47 C183.32,341.16 184.19,343.84 185.10,346.53 C186.01,349.21 186.98,351.89 187.99,354.58 C189.00,357.26 190.06,359.95 191.17,362.64 C192.28,365.33 193.44,368.01 194.66,370.70 C195.88,373.38 197.14,376.06 198.47,378.75 C199.80,381.44 201.19,384.12 202.63,386.81 C204.07,389.50 205.57,392.19 207.14,394.87 C208.71,397.56 210.34,400.24 212.03,402.92 C213.72,405.61 215.48,408.30 217.30,410.98 C219.12,413.67 221.01,416.34 222.96,419.03 C224.91,421.71 226.93,424.40 229.01,427.09 C231.09,429.78 233.24,432.46 235.44,435.15 C237.64,437.83 239.90,440.51 242.21,443.20 C244.52,445.88 246.90,448.57 249.30,451.26 C251.70,453.95 254.16,456.63 256.63,459.32 C259.10,462.00 261.62,464.69 264.14,467.37 C266.65,470.06 269.20,472.74 271.72,475.43 C274.24,478.12 276.78,480.81 279.26,483.49 C281.74,486.18 284.22,488.86 286.61,491.54 C289.00,494.23 291.27,496.91 293.60,499.60" stroke="#000" stroke-width="1.75" fill="none" stroke-linejoin="round"/>
<path d="M51.60,491.50 C52.48,488.92 53.37,486.34 54.24,483.77 C55.11,481.19 55.98,478.62 56.84,476.05 C57.70,473.48 58.55,470.89 59.40,468.32 C60.25,465.75 61.09,463.18 61.92,460.60 C62.76,458.03 63.59,455.45 64.41,452.87 C65.23,450.29 66.05,447.71 66.86,445.14 C67.67,442.56 68.49,440.00 69.30,437.42 C70.11,434.85 70.91,432.26 71.71,429.69 C72.51,427.12 73.31,424.55 74.10,421.97 C74.89,419.40 75.68,416.82 76.47,414.24 C77.26,411.66 78.04,409.08 78.83,406.51 C79.62,403.94 80.41,401.37 81.19,398.79 C81.97,396.22 82.75,393.64 83.53,391.06 C84.31,388.48 85.10,385.90 85.88,383.33 C86.66,380.75 87.45,378.19 88.23,375.61 C89.01,373.04 89.79,370.45 90.58,367.88 C91.37,365.31 92.16,362.74 92.95,360.16 C93.74,357.59 94.53,355.01 95.32,352.43 C96.11,349.85 96.91,347.27 97.71,344.70 C98.51,342.12 99.31,339.56 100.12,336.98 C100.93,334.41 101.73,331.82 102.55,329.25 C103.36,326.68 104.19,324.10 105.01,321.53 C105.84,318.95 106.67,316.38 107.50,313.80 C107.70,316.49 107.87,319.19 108.10,321.88 C108.33,324.57 108.61,327.27 108.90,329.96 C109.20,332.65 109.52,335.34 109.87,338.03 C110.22,340.72 110.59,343.42 110.99,346.11 C111.39,348.80 111.83,351.50 112.28,354.19 C112.73,356.88 113.21,359.58 113.71,362.27 C114.21,364.96 114.74,367.66 115.29,370.35 C115.84,373.04 116.42,375.74 117.03,378.43 C117.64,381.12 118.26,383.81 118.92,386.50 C119.58,389.19 120.27,391.89 120.99,394.58 C121.71,397.27 122.45,399.97 123.22,402.66 C123.99,405.35 124.80,408.05 125.63,410.74 C126.46,413.43 127.33,416.13 128.22,418.82 C129.11,421.51 130.03,424.21 130.98,426.90 C131.93,429.59 132.92,432.28 133.93,434.97 C134.94,437.66 135.97,440.36 137.03,443.05 C138.09,445.74 139.18,448.44 140.29,451.13 C141.40,453.82 142.53,456.52 143.68,459.21 C144.83,461.90 145.99,464.60 147.16,467.29 C148.33,469.98 149.53,472.68 150.71,475.37 C151.90,478.06 153.09,480.75 154.27,483.44 C155.45,486.13 156.63,488.83 157.79,491.52 C158.94,494.21 160.06,496.91 161.20,499.60" stroke="#f00" stroke-width="1.75" fill="none" stroke-linejoin="round"/>
<path d="M51.60,488.00 C52.11,485.48 52.61,482.95 53.12,480.43 C53.63,477.91 54.13,475.38 54.64,472.85 C55.15,470.33 55.65,467.80 56.16,465.28 C56.66,462.75 57.16,460.22 57.67,457.70 C58.18,455.18 58.68,452.65 59.19,450.13 C59.70,447.61 60.20,445.08 60.70,442.56 C61.20,440.04 61.71,437.50 62.21,434.98 C62.71,432.46 63.22,429.94 63.72,427.41 C64.22,424.88 64.73,422.36 65.23,419.83 C65.73,417.30 66.24,414.78 66.74,412.26 C67.24,409.74 67.74,407.21 68.24,404.69 C68.74,402.17 69.25,399.63 69.75,397.11 C70.25,394.59 70.75,392.06 71.25,389.54 C71.75,387.02 72.25,384.50 72.75,381.97 C73.25,379.45 73.75,376.91 74.25,374.39 C74.75,371.87 75.25,369.34 75.75,366.82 C76.25,364.30 76.75,361.76 77.25,359.24 C77.75,356.72 78.24,354.19 78.74,351.67 C79.24,349.15 79.74,346.62 80.24,344.10 C80.74,341.58 81.23,339.04 81.73,336.52 C82.23,334.00 82.72,331.47 83.22,328.95 C83.72,326.43 84.21,323.89 84.71,321.37 C85.21,318.85 85.70,316.32 86.20,313.80 C86.42,316.49 86.64,319.19 86.86,321.88 C87.08,324.57 87.29,327.27 87.51,329.96 C87.73,332.65 87.94,335.34 88.16,338.03 C88.38,340.72 88.60,343.42 88.84,346.11 C89.08,348.80 89.32,351.50 89.58,354.19 C89.84,356.88 90.10,359.58 90.38,362.27 C90.66,364.96 90.96,367.66 91.27,370.35 C91.58,373.04 91.91,375.74 92.25,378.43 C92.59,381.12 92.95,383.81 93.34,386.50 C93.73,389.19 94.13,391.89 94.56,394.58 C94.99,397.27 95.43,399.97 95.90,402.66 C96.37,405.35 96.85,408.05 97.36,410.74 C97.87,413.43 98.40,416.13 98.96,418.82 C99.52,421.51 100.10,424.21 100.70,426.90 C101.30,429.59 101.92,432.28 102.56,434.97 C103.20,437.66 103.88,440.36 104.56,443.05 C105.25,445.74 105.95,448.44 106.67,451.13 C107.39,453.82 108.13,456.52 108.89,459.21 C109.65,461.90 110.42,464.60 111.21,467.29 C112.00,469.98 112.81,472.68 113.62,475.37 C114.44,478.06 115.27,480.75 116.10,483.44 C116.93,486.13 117.78,488.83 118.63,491.52 C119.48,494.21 120.34,496.91 121.20,499.60" stroke="#0f0" stroke-width="1.75" fill="none" stroke-linejoin="round"/>
<path d="M51.60,485.00 C52.90,473.00 54.32,459.83 55.50,449.00 C56.68,438.17 57.53,430.67 58.70,420.00 C59.87,409.33 61.50,394.17 62.50,385.00 C63.50,375.83 63.88,372.50 64.70,365.00 C65.52,357.50 66.47,348.53 67.40,340.00 C68.33,331.47 69.33,322.53 70.30,313.80 C70.57,318.96 70.81,324.12 71.10,329.28 C71.39,334.44 71.71,339.61 72.05,344.77 C72.39,349.93 72.76,355.09 73.15,360.25 C73.54,365.41 73.96,370.57 74.40,375.73 C74.84,380.89 75.30,386.06 75.79,391.22 C76.28,396.38 76.79,401.54 77.33,406.70 C77.87,411.86 78.43,417.02 79.02,422.18 C79.61,427.34 80.22,432.51 80.86,437.67 C81.50,442.83 82.16,447.99 82.85,453.15 C83.54,458.31 84.24,463.47 84.98,468.63 C85.72,473.79 86.48,478.96 87.27,484.12 C88.06,489.28 88.89,494.44 89.70,499.60" stroke="#00f" stroke-width="1.75" fill="none" stroke-linejoin="round"/>
<path d="M51.60,484.00 C52.23,474.33 52.85,464.83 53.50,455.00 C54.15,445.17 54.92,435.00 55.50,425.00 C56.08,415.00 56.53,405.00 57.00,395.00 C57.47,385.00 57.82,374.17 58.30,365.00 C58.78,355.83 59.37,348.53 59.90,340.00 C60.43,331.47 60.97,322.53 61.50,313.80 C61.58,318.96 61.65,324.12 61.74,329.28 C61.84,334.44 61.95,339.61 62.07,344.77 C62.19,349.93 62.32,355.09 62.47,360.25 C62.62,365.41 62.78,370.57 62.96,375.73 C63.14,380.89 63.32,386.06 63.52,391.22 C63.72,396.38 63.94,401.54 64.17,406.70 C64.40,411.86 64.64,417.02 64.89,422.18 C65.14,427.34 65.41,432.51 65.69,437.67 C65.97,442.83 66.26,447.99 66.57,453.15 C66.88,458.31 67.21,463.47 67.54,468.63 C67.88,473.79 68.22,478.96 68.58,484.12 C68.94,489.28 69.33,494.44 69.70,499.60" stroke="#f0f" stroke-width="1.75" fill="none" stroke-linejoin="round"/>
<path d="M234,319.40H257.6" stroke="#000" stroke-width="1.6"/>
<text x="260.2" y="323.70" font-size="16" word-spacing="1.4">1 A<tspan dx="0.6">·</tspan><tspan dx="0.5">g</tspan><tspan dy="-5.2" dx="0.4">-</tspan><tspan dx="1.2">1</tspan></text>
<path d="M234,345.35H257.6" stroke="#f00" stroke-width="1.6"/>
<text x="260.2" y="349.65" font-size="16" word-spacing="1.4">2 A<tspan dx="0.6">·</tspan><tspan dx="0.5">g</tspan><tspan dy="-5.2" dx="0.4">-</tspan><tspan dx="1.2">1</tspan></text>
<path d="M234,371.30H257.6" stroke="#0f0" stroke-width="1.6"/>
<text x="260.2" y="375.60" font-size="16" word-spacing="1.4">3 A<tspan dx="0.6">·</tspan><tspan dx="0.5">g</tspan><tspan dy="-5.2" dx="0.4">-</tspan><tspan dx="1.2">1</tspan></text>
<path d="M234,397.25H257.6" stroke="#00f" stroke-width="1.6"/>
<text x="260.2" y="401.55" font-size="16" word-spacing="1.4">5 A<tspan dx="0.6">·</tspan><tspan dx="0.5">g</tspan><tspan dy="-5.2" dx="0.4">-</tspan><tspan dx="1.2">1</tspan></text>
<path d="M234,423.20H257.6" stroke="#f0f" stroke-width="1.6"/>
<text x="260.2" y="427.50" font-size="16" word-spacing="1.4">10 A<tspan dx="0.6">·</tspan><tspan dx="0.5">g</tspan><tspan dy="-5.2" dx="0.4">-</tspan><tspan dx="1.2">1</tspan></text>
<text x="353.70" y="289.20" font-size="18" text-anchor="start" >(d)</text>
<path d="M417.50,300.8V499.7M423.50,300.8V499.7M428.50,300.8V499.7M432.50,300.8V499.7M435.50,300.8V499.7M460.50,300.8V499.7M472.50,300.8V499.7M481.50,300.8V499.7M488.50,300.8V499.7M493.50,300.8V499.7M498.50,300.8V499.7M502.50,300.8V499.7M506.50,300.8V499.7M530.50,300.8V499.7M543.50,300.8V499.7M551.50,300.8V499.7M558.50,300.8V499.7M564.50,300.8V499.7M569.50,300.8V499.7M573.50,300.8V499.7M576.50,300.8V499.7M601.50,300.8V499.7M613.50,300.8V499.7M622.50,300.8V499.7M629.50,300.8V499.7M634.50,300.8V499.7M639.50,300.8V499.7M643.50,300.8V499.7M647.50,300.8V499.7M671.50,300.8V499.7M411,459.50H684M411,447.50H684M411,436.50H684M411,426.50H684M411,417.50H684M411,408.50H684M411,400.50H684M411,393.50H684M411,379.50H684M411,373.50H684M411,367.50H684M411,361.50H684M411,356.50H684M411,350.50H684M411,345.50H684M411,340.50H684M411,331.50H684M411,327.50H684M411,323.50H684M411,319.50H684M411,315.50H684M411,311.50H684M411,307.50H684M411,304.50H684M411,486.50H684" stroke="#cbcbcb" stroke-width="1" stroke-dasharray="2.7,2.6" fill="none"/>
<path d="M439.50,300.8V499.7M509.50,300.8V499.7M579.50,300.8V499.7M650.50,300.8V499.7M411,472.50H684M411,386.50H684M411,336.50H684" stroke="#7a7a7a" stroke-width="1.1" fill="none"/>
<rect x="411" y="300.8" width="273" height="198.89999999999998" fill="none" stroke="#111" stroke-width="1.6"/>
<path d="M439.00,499.70v3.6M509.47,499.70v3.6M579.94,499.70v3.6M650.41,499.70v3.6M417.79,499.70v2.2M423.37,499.70v2.2M428.08,499.70v2.2M432.17,499.70v2.2M435.78,499.70v2.2M460.21,499.70v2.2M472.62,499.70v2.2M481.43,499.70v2.2M488.26,499.70v2.2M493.84,499.70v2.2M498.55,499.70v2.2M502.64,499.70v2.2M506.25,499.70v2.2M530.68,499.70v2.2M543.09,499.70v2.2M551.90,499.70v2.2M558.73,499.70v2.2M564.31,499.70v2.2M569.02,499.70v2.2M573.11,499.70v2.2M576.72,499.70v2.2M601.15,499.70v2.2M613.56,499.70v2.2M622.37,499.70v2.2M629.20,499.70v2.2M634.78,499.70v2.2M639.49,499.70v2.2M643.58,499.70v2.2M647.19,499.70v2.2M671.62,499.70v2.2M411.00,472.03h-4.6M411.00,386.41h-4.6M411.00,336.33h-4.6M411.00,300.80h-4.6M411.00,459.01h-2.6M411.00,447.24h-2.6M411.00,436.49h-2.6M411.00,426.61h-2.6M411.00,417.45h-2.6M411.00,408.93h-2.6M411.00,400.96h-2.6M411.00,393.47h-2.6M411.00,379.73h-2.6M411.00,373.40h-2.6M411.00,367.37h-2.6M411.00,361.63h-2.6M411.00,356.14h-2.6M411.00,350.88h-2.6M411.00,345.84h-2.6M411.00,340.99h-2.6M411.00,331.84h-2.6M411.00,327.51h-2.6M411.00,323.32h-2.6M411.00,319.27h-2.6M411.00,315.35h-2.6M411.00,311.55h-2.6M411.00,307.86h-2.6M411.00,304.28h-2.6M411.00,486.57h-2.6" stroke="#111" stroke-width="1.4" fill="none"/>
<text x="439.60" y="519.80" font-size="16" text-anchor="middle" >10</text>
<text x="509.47" y="519.80" font-size="16" text-anchor="middle" >100</text>
<text x="579.94" y="519.80" font-size="16" text-anchor="middle" >1000</text>
<text x="649.41" y="519.80" font-size="16" text-anchor="middle" >10000</text>
<text x="401.40" y="478.03" font-size="16" text-anchor="end" >5</text>
<text x="401.40" y="392.41" font-size="16" text-anchor="end" >10</text>
<text x="401.40" y="342.33" font-size="16" text-anchor="end" >15</text>
<text x="401.40" y="306.80" font-size="16" text-anchor="end" >20</text>
<text x="466" y="542.4" font-size="18">Power density (W·kg<tspan font-size="11" dy="-8">-1</tspan><tspan dy="8">)</tspan></text>
<text transform="translate(374.1,403.5) rotate(-90)" font-size="18" text-anchor="middle">Energy density (Wh·kg<tspan font-size="11" dy="-8">-1</tspan><tspan dy="8">)</tspan></text>
<polyline points="549.9,315 570.9,323.6 582.9,330.2 598.8,339.4 613,352.6 620,358.7" stroke="#f00" stroke-width="1.8" fill="none"/>
<rect x="547.00" y="312.10" width="5.8" height="5.8" fill="#f00"/>
<rect x="568.00" y="320.70" width="5.8" height="5.8" fill="#f00"/>
<rect x="580.00" y="327.30" width="5.8" height="5.8" fill="#f00"/>
<rect x="595.90" y="336.50" width="5.8" height="5.8" fill="#f00"/>
<rect x="610.10" y="349.70" width="5.8" height="5.8" fill="#f00"/>
<rect x="617.10" y="355.80" width="5.8" height="5.8" fill="#f00"/>
<rect x="512.80" y="404.00" width="5.8" height="5.8" fill="#00f"/>
<rect x="521.10" y="407.90" width="5.8" height="5.8" fill="#00f"/>
<rect x="615.00" y="395.20" width="5.8" height="5.8" fill="#00f"/>
<rect x="430.30" y="477.10" width="5.8" height="5.8" fill="#00f"/>
<path d="M448,327.1H471.1" stroke="#f00" stroke-width="1.8"/>
<rect x="456.50" y="324.20" width="5.8" height="5.8" fill="#f00"/>
<text x="473.90" y="330.60" font-size="12.5" text-anchor="start" >N/O-3-700</text>
<text x="475.50" y="409.00" font-size="12.1" text-anchor="start" >Ref. 76</text>
<text x="529.90" y="419.30" font-size="12.1" text-anchor="start" >Ref. 69</text>
<text x="618.40" y="414.20" font-size="12.1" text-anchor="start" >Ref. 75</text>
<text x="421.70" y="473.00" font-size="12.1" text-anchor="start" >Ref. 74</text>
</svg>
</body></html>
